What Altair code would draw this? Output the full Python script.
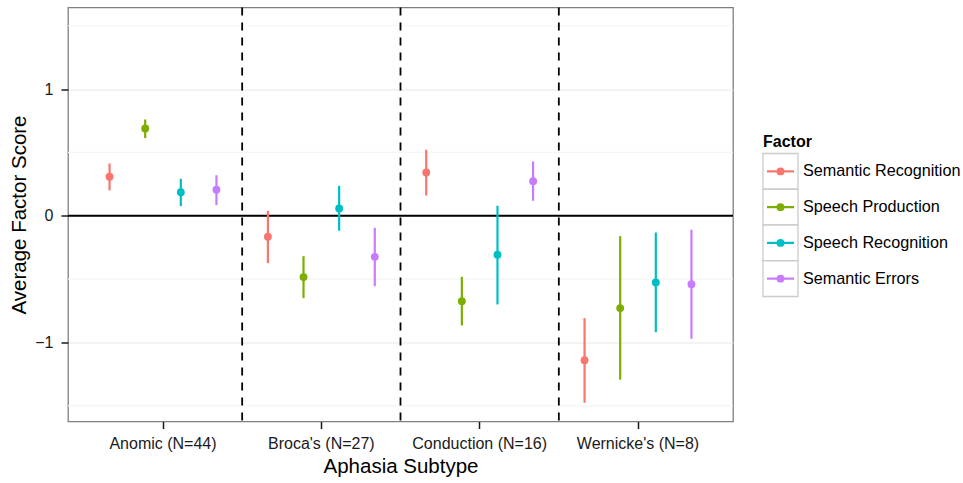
import altair as alt
import pandas as pd

subtypes = ["Anomic (N=44)", "Broca's (N=27)", "Conduction (N=16)", "Wernicke's (N=8)"]
factors = ["Semantic Recognition", "Speech Production", "Speech Recognition", "Semantic Errors"]
colors = ["#F8766D", "#7CAE00", "#00BFC4", "#C77CFF"]

# rows: subtype, columns: factor
mean_score = [
    [0.308, 0.689, 0.186, 0.205],
    [-0.166, -0.484, 0.058, -0.324],
    [0.342, -0.674, -0.308, 0.273],
    [-1.140, -0.729, -0.526, -0.540],
]
lower_ci = [
    [0.200, 0.613, 0.076, 0.084],
    [-0.374, -0.650, -0.118, -0.556],
    [0.160, -0.866, -0.700, 0.118],
    [-1.476, -1.294, -0.919, -0.971],
]
upper_ci = [
    [0.413, 0.760, 0.292, 0.320],
    [0.039, -0.319, 0.237, -0.095],
    [0.521, -0.482, 0.079, 0.429],
    [-0.808, -0.161, -0.132, -0.110],
]
y_ticks = [-1, 0, 1]
y_minor = [-1.5, -0.5, 0.5, 1.5]
y_domain = [-1.624, 1.644]
legend_title = "Factor"
x_title = "Aphasia Subtype"
y_title = "Average Factor Score"

rows = []
for i, s in enumerate(subtypes):
    for j, f in enumerate(factors):
        rows.append(dict(Subtype=s, Factor=f, mean=mean_score[i][j],
                         lo=lower_ci[i][j], hi=upper_ci[i][j]))
df = pd.DataFrame(rows)

FONT = "Liberation Sans"

xscale = alt.Scale(domain=subtypes, paddingInner=0, paddingOuter=0.1)
yscale = alt.Scale(domain=y_domain, nice=False, zero=False)
xaxis = alt.Axis(title=x_title, labelAngle=0, bandPosition=0.5, tickSize=7,
                 labelPadding=7, titlePadding=5)
yaxis = alt.Axis(title=y_title, values=y_ticks, tickSize=7, labelPadding=8,
                 titlePadding=5, format="d")
color = alt.Color("Factor:N", scale=alt.Scale(domain=factors, range=colors), legend=None)
xoff = alt.XOffset("Factor:N", scale=alt.Scale(domain=factors, paddingInner=0, paddingOuter=0.222))

X = alt.X("Subtype:N", scale=xscale, axis=xaxis)

minor = alt.Chart(pd.DataFrame({"y": y_minor})).mark_rule(
    color="#F5F5F5", strokeWidth=1.2
).encode(y=alt.Y("y:Q", scale=yscale, axis=yaxis))

vlines = alt.Chart(pd.DataFrame({"Subtype": subtypes[1:]})).mark_rule(
    color="black", strokeWidth=1.8, strokeDash=[8, 7]
).encode(x=alt.X("Subtype:N", scale=xscale, axis=xaxis, bandPosition=0))

hline = alt.Chart(pd.DataFrame({"y": [0]})).mark_rule(
    color="black", strokeWidth=1.8
).encode(y=alt.Y("y:Q", scale=yscale, axis=yaxis))

errbars = alt.Chart(df).mark_rule(strokeWidth=2.2).encode(
    x=X, xOffset=xoff,
    y=alt.Y("lo:Q", scale=yscale, axis=yaxis), y2="hi:Q",
    color=color,
)

points = alt.Chart(df).mark_circle(size=62, opacity=1).encode(
    x=X, xOffset=xoff,
    y=alt.Y("mean:Q", scale=yscale, axis=yaxis),
    color=color,
)

main = alt.layer(minor, vlines, hline, errbars, points)

# manual legend, ggplot style
leg_df = pd.DataFrame({"Factor": factors})
lscale = alt.Scale(domain=factors, range=[146, 289], paddingInner=0, paddingOuter=0)
LY = alt.Y("Factor:N", scale=lscale, axis=None)

leg_box = alt.Chart(leg_df).mark_rect(fill="white", stroke="#CCCCCC", strokeWidth=1.3).encode(
    y=LY, x=alt.value(695), x2=alt.value(730))
leg_line = alt.Chart(leg_df).mark_rule(strokeWidth=2.2).encode(
    y=alt.Y("Factor:N", scale=lscale, axis=None, bandPosition=0.5),
    x=alt.value(699), x2=alt.value(726), color=color)
leg_dot = alt.Chart(leg_df).mark_circle(size=62, opacity=1).encode(
    y=LY, x=alt.value(712.5), color=color)
leg_text = alt.Chart(leg_df).mark_text(align="left", baseline="middle", fontSize=16.2,
                                       font=FONT, color="black").encode(
    y=LY, x=alt.value(735), text="Factor:N")
leg_title = alt.Chart(pd.DataFrame({"t": [legend_title]})).mark_text(
    align="left", baseline="middle", fontSize=16, fontWeight="bold", font=FONT, color="black"
).encode(x=alt.value(695), y=alt.value(134), text="t:N")

legend = alt.layer(leg_box, leg_line, leg_dot, leg_text, leg_title)

chart = alt.layer(main, legend).resolve_scale(y="independent").properties(
    width=665, height=414,
    padding={"left": 9, "top": 6.5, "right": 0, "bottom": 0},
    background="white",
).configure_view(
    stroke="#7F7F7F", strokeWidth=1.3
).configure_axis(
    labelFont=FONT, titleFont=FONT, labelFontSize=16, titleFontSize=20.5,
    titleFontWeight="normal", labelColor="#1A1A1A", titleColor="black",
    tickColor="#1A1A1A", tickWidth=1.5, gridColor="#E8E8E8", gridWidth=1.2, domain=False,
)

chart.save("out.html", embed_options={"renderer": "svg", "actions": False})
